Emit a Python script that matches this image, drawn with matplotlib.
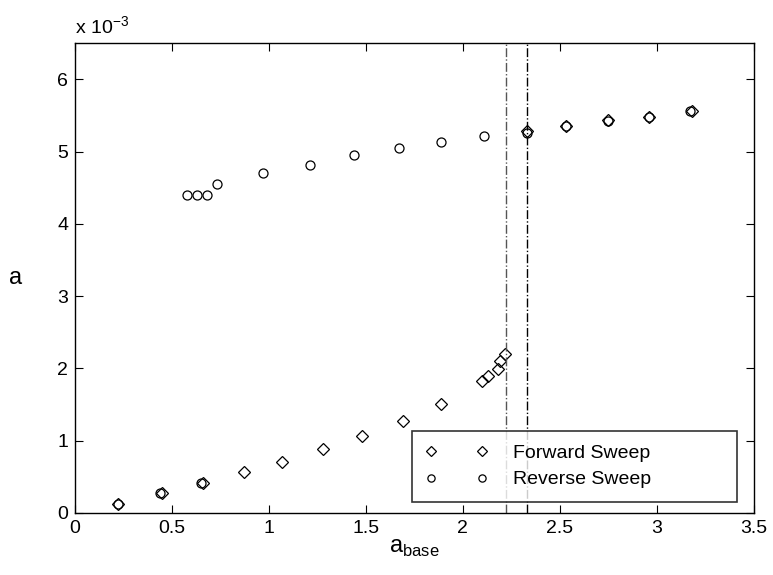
import numpy as np
import matplotlib.pyplot as plt

plt.rcParams['font.family'] = ['Liberation Sans', 'DejaVu Sans']
plt.rcParams['mathtext.fontset'] = 'custom'
plt.rcParams['mathtext.rm'] = 'Liberation Sans'

# forward sweep (values of a in units of 1e-3)
fwd_x = [0.22, 0.45, 0.66, 0.87, 1.07, 1.28, 1.48, 1.69, 1.89,
         2.10, 2.13, 2.18, 2.19, 2.22,
         2.33, 2.53, 2.75, 2.96, 3.18]
fwd_y = [0.13, 0.27, 0.41, 0.56, 0.71, 0.88, 1.06, 1.27, 1.50,
         1.83, 1.90, 1.99, 2.10, 2.20,
         5.28, 5.36, 5.43, 5.48, 5.56]

# reverse sweep
rev_x = [3.17, 2.96, 2.75, 2.53, 2.33, 2.11, 1.89, 1.67, 1.44, 1.21,
         0.97, 0.73, 0.68, 0.63, 0.58, 0.65, 0.44, 0.22]
rev_y = [5.56, 5.48, 5.42, 5.35, 5.26, 5.21, 5.13, 5.05, 4.95, 4.82,
         4.70, 4.55, 4.40, 4.40, 4.40, 0.42, 0.27, 0.13]

# jump positions
jumps = [2.222, 2.331]

fig = plt.figure(figsize=(7.73, 5.75), dpi=100)
ax = fig.add_axes([0.097, 0.108, 0.878, 0.817])

ax.plot(fwd_x, fwd_y, 'D', mfc='none', mec='k', ms=6, mew=0.9, ls='none', label='Forward Sweep')
ax.plot(rev_x, rev_y, 'o', mfc='none', mec='k', ms=6.5, mew=0.9, ls='none', label='Reverse Sweep')

ax.axvline(jumps[0], color='#555555', lw=1, ls='-.')
ax.axvline(jumps[1], color='k', lw=1, ls='-.')

ax.set_xlim(0, 3.5)
ax.set_ylim(0, 6.5)
ax.set_xticks(np.arange(0, 3.51, 0.5))
ax.set_xticklabels(['0', '0.5', '1', '1.5', '2', '2.5', '3', '3.5'])
ax.set_yticks(range(0, 7))
ax.tick_params(direction='in', top=True, right=True, length=6, width=0.8, labelsize=14, pad=5)
for s in ax.spines.values():
    s.set_linewidth(1.0)

ax.text(0.0, 1.01, r'x 10$^{-3}$', transform=ax.transAxes, fontsize=14, ha='left', va='bottom')
ax.set_xlabel(r'a$_{\rm base}$', fontsize=17, labelpad=0)
ax.set_ylabel('a', fontsize=17, rotation=0, labelpad=30, va='center')

leg = ax.legend(loc='lower left', bbox_to_anchor=(0.496, 0.023, 0.48, 0.155), mode='expand',
                borderaxespad=0, numpoints=2, fontsize=14, frameon=True, fancybox=False,
                edgecolor='k', handlelength=3.2, borderpad=0.7, labelspacing=0.45,
                handletextpad=1.3, markerscale=0.8)
leg.get_frame().set_linewidth(1.2)

fig.savefig('out.png', dpi=100)
